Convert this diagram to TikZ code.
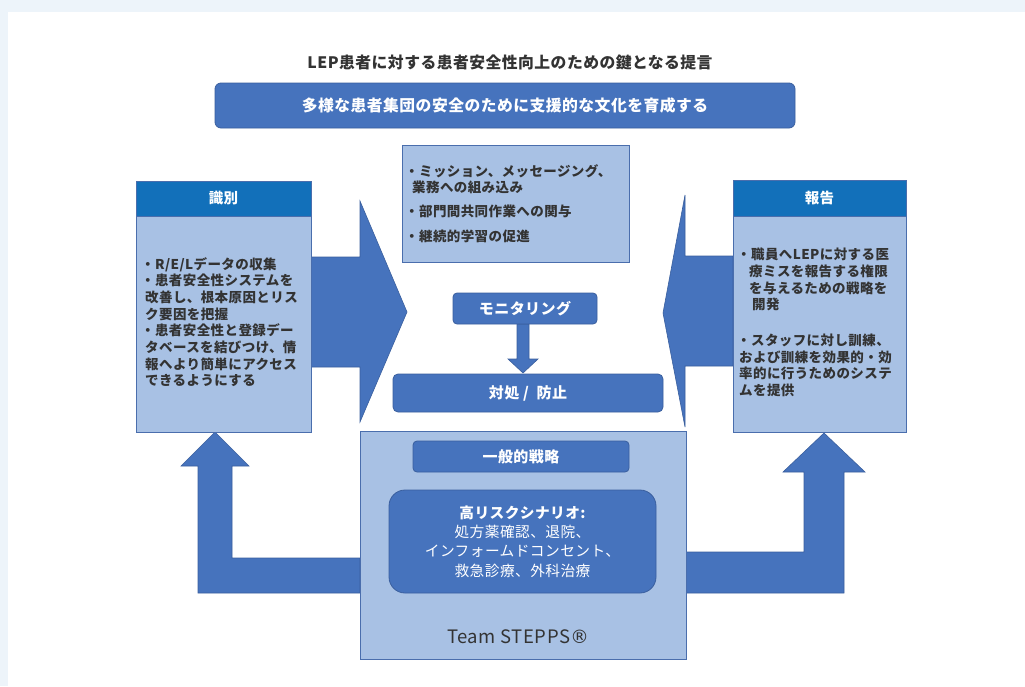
\documentclass[tikz,border=0pt]{standalone}
\usepackage{fontspec}
\setmainfont{Noto Sans CJK JP}[LetterSpace=3]
\newfontfamily\markfont{DejaVu Sans}
\usetikzlibrary{positioning,backgrounds}
\definecolor{pageblue}{HTML}{EDF4FA}
\definecolor{midblue}{HTML}{4673BD}
\definecolor{btnline}{HTML}{3A5F9E}
\definecolor{paleblue}{HTML}{A8C1E4}
\definecolor{boxline}{HTML}{4A6EAD}
\definecolor{headblue}{HTML}{1270BA}
\definecolor{textgray}{HTML}{333333}

\begin{document}
\begin{tikzpicture}[x=1pt,y=-1pt,
  lightbox/.style={draw=boxline,fill=paleblue,line width=0.8pt,inner sep=0pt,outer sep=0pt},
  headbox/.style={draw=boxline,fill=headblue,line width=0.8pt,inner sep=0pt,outer sep=0pt,text=white,font=\bfseries\fontsize{14.5}{16}\selectfont},
  bluebtn/.style={draw=btnline,fill=midblue,line width=0.8pt,rounded corners=4pt,inner sep=0pt,outer sep=0pt,text=white,font=\bfseries\fontsize{15}{17}\selectfont},
  bodytext/.style={text=textgray,font=\bfseries\fontsize{13.5}{16.7}\selectfont,align=left,inner sep=0pt,anchor=north west},
  blockarrow/.style={fill=midblue,draw=btnline,line width=0.6pt}]
\useasboundingbox (0,0) rectangle (1025,686);

\node[text=textgray,font=\bfseries\fontsize{15.8}{17}\selectfont] (title) at (510,62) {LEP患者に対する患者安全性向上のための鍵となる提言};
\node[bluebtn,rounded corners=6pt,minimum width=580pt,minimum height=45pt,font=\bfseries\fontsize{15.8}{17}\selectfont] (culture) at (505,105.5) {多様な患者集団の安全のために支援的な文化を育成する};

% identification
\node[headbox,minimum width=175pt,minimum height=35pt] (identhead) at (223.5,198.5) {識別};
\node[lightbox,minimum width=175pt,minimum height=216pt,below=0pt of identhead] (identbody) {};
\node[bodytext] (identtext) at (145,257) {\hspace*{-4pt}・R/E/Lデータの収集\\\hspace*{-4pt}・患者安全性システムを\\改善し、根本原因とリス\\ク要因を把握\\\hspace*{-4pt}・患者安全性と登録デー\\タベースを結びつけ、情\\報へより簡単にアクセス\\できるようにする};

% reporting
\node[headbox,minimum width=173pt,minimum height=36pt] (reporthead) at (819.5,198) {報告};
\node[lightbox,minimum width=173pt,minimum height=216pt,below=0pt of reporthead] (reportbody) {};
\node[bodytext] (reporttext) at (739,248) {\hspace*{-2pt}・職員へLEPに対する医\\\hspace*{10pt}療ミスを報告する権限\\\hspace*{10pt}を与えるための戦略を\\\hspace*{13pt}開発\\[19pt]\hspace*{-2pt}・スタッフに対し訓練、\\および訓練を効果的・効\\率的に行うためのシステ\\ムを提供};

% culture
\node[lightbox,minimum width=227pt,minimum height=117pt] (culturebox) at (515.5,203.5) {};
\node[bodytext] (culturetext) at (405,164) {・ミッション、メッセージング、\\\hspace*{7pt}業務への組み込み\\[6.7pt]・部門間共同作業への関与\\[8.3pt]・継続的学習の促進};

\node[bluebtn,minimum width=144pt,minimum height=31pt] (monitor) at (525,308.5) {モニタリング};
\node[bluebtn,rounded corners=5pt,minimum width=270pt,minimum height=38pt] (respond) at (528,393) {対処 /\ \ 防止};

% team steps
\node[lightbox,minimum width=326pt,minimum height=228pt] (stepps) at (523,545) {};
\node[bluebtn,minimum width=216pt,minimum height=31pt] (general) at (521,456.5) {一般的戦略};
\node[bluebtn,rounded corners=16pt,minimum width=267pt,minimum height=103pt,align=center,font=\fontsize{14.7}{19.3}\selectfont] (scenario) at (522.5,541.5) {{\bfseries 高リスクシナリオ:}\\処方薬確認、退院、\\インフォームドコンセント、\\救急診療、外科治療};
\node[text=textgray,font=\fontsize{18.5}{20}\selectfont] (teamname) at (518,637) {Team STEPPS{\markfont ®}};

\begin{scope}[on background layer]
\fill[pageblue] (0,0) rectangle (1025,686);
\fill[white] (8,12) rectangle (1025,686);
\draw[blockarrow] ([yshift=67pt]identbody.east) -- ++(49,0) -- ++(0,-56) -- ++(47,111) -- ++(-47,110) -- ++(0,-55) -- ++(-49,0) -- cycle;
\draw[blockarrow] ([yshift=68pt]reportbody.west) -- ++(-48,0) -- ++(0,-61) -- ++(-22,118) -- ++(22,114) -- ++(0,-61) -- ++(48,0) -- cycle;
\draw[blockarrow] ([xshift=-8pt]monitor.south) -- ++(0,35) -- ++(-9,0) -- ++(15,14) -- ++(15,-14) -- ++(-9,0) -- ++(0,-35) -- cycle;
\draw[blockarrow] ([yshift=-13pt]stepps.west) -- ++(-128,0) -- ++(0,-92) -- ++(17,0) -- ++(-34,-34) -- ++(-34,34) -- ++(17,0) -- ++(0,127) -- ++(162,0) -- cycle;
\draw[blockarrow] ([yshift=-7pt]stepps.east) -- ++(118,0) -- ++(0,-80) -- ++(-21,0) -- ++(41,-39) -- ++(41,39) -- ++(-21,0) -- ++(0,121) -- ++(-158,0) -- cycle;
\end{scope}
\end{tikzpicture}
\end{document}
